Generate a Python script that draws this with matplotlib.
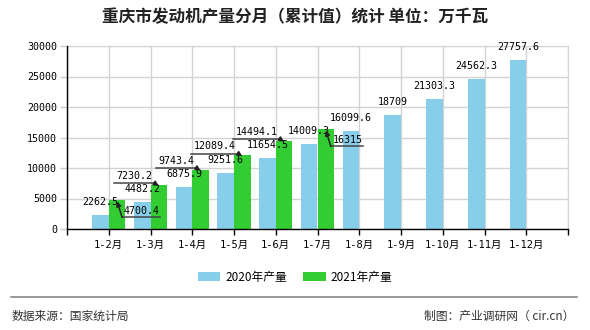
import matplotlib
matplotlib.use('Agg')
import matplotlib.pyplot as plt
import numpy as np
from matplotlib.lines import Line2D
from matplotlib.patches import FancyArrowPatch, Patch
from matplotlib.transforms import IdentityTransform

plt.rcParams['font.family'] = ['Noto Sans CJK SC', 'DejaVu Sans']

title = '重庆市发动机产量分月（累计值）统计 单位：万千瓦'
categories = ['1-2月', '1-3月', '1-4月', '1-5月', '1-6月', '1-7月',
              '1-8月', '1-9月', '1-10月', '1-11月', '1-12月']
prod_2020 = [2262.5, 4482.2, 6875.9, 9251.6, 11654.5, 14009.3,
             16099.6, 18709, 21303.3, 24562.3, 27757.6]
prod_2021 = [4700.4, 7230.2, 9743.4, 12089.4, 14494.1, 16315]
series_names = ['2020年产量', '2021年产量']
yticks = [0, 5000, 10000, 15000, 20000, 25000, 30000]
# placement of the moved 2021 labels (style only)
label_side_2021 = ['below', 'left', 'left', 'left', 'left', 'below']

C_BLUE = '#87ceeb'
C_GREEN = '#33cc33'
MONO = ['DejaVu Sans Mono', 'Noto Sans CJK SC']


def fmt(v):
    s = '%.1f' % v
    return s.rstrip('0').rstrip('.')


W, H = 590, 330
fig = plt.figure(figsize=(W / 100, H / 100), dpi=100)
ax = fig.add_axes([67 / W, 1 - 229 / H, 501 / W, 183 / H])

x = np.arange(len(categories))
bw = 0.4
ax.bar(x - bw / 2, prod_2020, bw, color=C_BLUE, zorder=2)
x21 = np.arange(len(prod_2021))
ax.bar(x21 + bw / 2, prod_2021, bw, color=C_GREEN, zorder=2)

ax.set_xlim(-1, len(categories))
ax.set_ylim(yticks[0], yticks[-1])
ax.set_yticks(yticks)
ax.set_yticklabels([str(t) for t in yticks], family=MONO, fontsize=7.2)
ax.set_xticks(np.arange(-1, len(categories) + 1))
ax.set_xticklabels([''] + categories + [''], family=MONO, fontsize=7.5)
ax.tick_params(axis='x', length=4, width=1, color='black', pad=4)
ax.tick_params(axis='y', length=5, width=1, color='#cccccc', pad=2)
ax.grid(True, color='#d3d3d3', lw=1, zorder=0)
for s in ['top', 'right']:
    ax.spines[s].set_color('#d3d3d3')
for s in ['left', 'bottom']:
    ax.spines[s].set_color('black')
    ax.spines[s].set_linewidth(1)
    ax.spines[s].set_zorder(3)

# 2020 labels above bars
for xi, v in zip(x, prod_2020):
    ax.annotate(fmt(v), (xi - bw / 2, v), xytext=(0, 13),
                textcoords='offset pixels', ha='center', va='center',
                family=MONO, fontsize=7.2, color='black', zorder=5)

# 2021 labels moved with leader lines
fig.canvas.draw()
CW = 5.85
for xi, v, side in zip(x21, prod_2021, label_side_2021):
    lab = fmt(v)
    tw = len(lab) * CW
    tx, ty = ax.transData.transform((xi + bw / 2, v))
    ty -= 1
    if side == 'left':
        uy = ty + 2.5
        pts = [(tx - tw - 10, uy), (tx - 4, uy)]
        cx, cy = tx - tw / 2 - 7, ty + 10
    else:
        uy = ty - 16
        pts = [(tx + tw + 8, uy), (tx + 5, uy)]
        cx, cy = tx + 5 + tw / 2 + 2, ty - 9.5
    fig.add_artist(Line2D([p[0] for p in pts], [p[1] for p in pts],
                          transform=IdentityTransform(), color='#444444',
                          lw=1.1, zorder=6))
    arr = FancyArrowPatch(pts[-1], (tx, ty), transform=IdentityTransform(),
                          arrowstyle='-|>', mutation_scale=7, color='#222222',
                          lw=1.1, shrinkA=0, shrinkB=0, zorder=7)
    fig.add_artist(arr)
    fig.text(cx, cy, lab, transform=IdentityTransform(), ha='center',
             va='center', family=MONO, fontsize=7.2, color='black', zorder=8)

# title
fig.text(0.5, 1 - 17 / H, title, ha='center', va='center', fontsize=12,
         fontweight='bold', color='#222222')

# legend
handles = [Patch(facecolor=C_BLUE, edgecolor='none'),
           Patch(facecolor=C_GREEN, edgecolor='none')]
fig.legend(handles, series_names, loc='center', ncol=2,
           bbox_to_anchor=(0.5, 1 - 277 / H), frameon=False, fontsize=8.5,
           handlelength=1.9, handleheight=0.85, handletextpad=0.4,
           columnspacing=1.4)

# footer
fig.add_artist(Line2D([11 / W, 577 / W], [1 - 297 / H] * 2, color='#888888',
                      lw=1.2))
fig.text(12 / W, 1 - 316 / H, '数据来源：国家统计局', ha='left', va='center',
         fontsize=8.5, color='#333333')
fig.text(574 / W, 1 - 316 / H, '制图：产业调研网（ cir.cn）', ha='right',
         va='center', fontsize=8.5, color='#333333')

fig.savefig('out.png', dpi=100)
